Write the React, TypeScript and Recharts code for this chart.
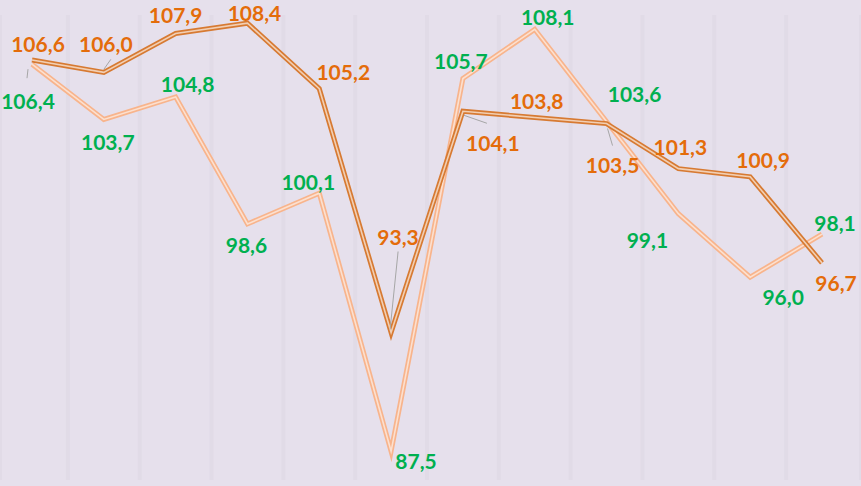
import { LineChart, Line, XAxis, YAxis, CartesianGrid } from "recharts";

const months = ["1", "2", "3", "4", "5", "6", "7", "8", "9", "10", "11", "12"];
const seriesA = [106.6, 106.0, 107.9, 108.4, 105.2, 93.3, 104.1, 103.8, 103.5, 101.3, 100.9, 96.7];
const seriesB = [106.4, 103.7, 104.8, 98.6, 100.1, 87.5, 105.7, 108.1, 103.6, 99.1, 96.0, 98.1];
// grid sits between categories
const gridTicks = [0.5, 1.5, 2.5, 3.5, 4.5, 5.5, 6.5, 7.5, 8.5, 9.5, 10.5];

const data = months.map((m, i) => ({ m, a: seriesA[i], b: seriesB[i] }));

// label offsets from the point (text centre), plus optional leader lines
const offA = [[6, -17], [2, -29], [0, -19], [7, -11], [24, -17], [7, -96], [30, 31], [2, -17], [6, 41], [2, -22], [13, -17], [14, 20]];
const offB = [[-4, 36], [4, 22], [12, -13], [-1, 21], [-11, -12], [25, 9], [-2, -18], [13, -13], [28, -28], [-31, 26], [33, 19], [13, -12]];
const leadA: (number[] | null)[] = [null, [0, -3, 7, -13], null, null, null, [-1, -3, 7, -81], [1, 4, 24, 12], null, [1, 5, 6, 22], null, null, null];
const leadB: (number[] | null)[] = [[-4, 5, -5, 14], null, null, null, null, null, null, null, null, null, null, null];

const fmt = (v: number) => v.toFixed(1).replace(".", ",");

function makeLabel(offs: number[][], leads: (number[] | null)[], color: string) {
  return (props: any) => {
    const { x, y, value, index } = props;
    const [dx, dy] = offs[index];
    const ld = leads[index];
    return (
      <g>
        {ld && (
          <line x1={x + ld[0]} y1={y + ld[1]} x2={x + ld[2]} y2={y + ld[3]} stroke="#a6a6a6" strokeWidth={1} />
        )}
        <text
          x={x + dx}
          y={y + dy}
          textAnchor="middle"
          dominantBaseline="central"
          fill={color}
          fontFamily="Lato, sans-serif"
          fontWeight={700}
          fontSize={21}
        >
          {fmt(value)}
        </text>
      </g>
    );
  };
}

export default function App() {
  return (
    <div style={{ position: "absolute", left: 0, top: 0, width: 861, height: 486, background: "#e6e0ec" }}>
      <style>{".recharts-line-curve { stroke-linejoin: miter; stroke-miterlimit: 10; }"}</style>
      <LineChart width={861} height={486} data={data} margin={{ top: 15, right: 0, bottom: 6, left: 0 }}>
        <CartesianGrid horizontal={false} stroke="#e1dbe7" strokeWidth={4} xAxisId="g" />
        <XAxis dataKey="m" hide padding={{ left: 32, right: 39 }} />
        <XAxis xAxisId="g" type="number" hide domain={[0, 11]} ticks={gridTicks} padding={{ left: 32, right: 39 }} />
        <YAxis hide domain={[86.1, 108.8]} />
        <Line dataKey="b" stroke="#f8b48c" strokeWidth={5} dot={false} isAnimationActive={false} />
        <Line dataKey="b" stroke="#fce0cf" strokeWidth={1.6} dot={false} isAnimationActive={false} />
        <Line dataKey="a" stroke="#d77a32" strokeWidth={5} dot={false} isAnimationActive={false} />
        <Line dataKey="a" stroke="#f2cfb3" strokeWidth={1.6} dot={false} isAnimationActive={false} />
        <Line dataKey="a" stroke="none" dot={false} isAnimationActive={false} label={makeLabel(offA, leadA, "#e46c0a")} />
        <Line dataKey="b" stroke="none" dot={false} isAnimationActive={false} label={makeLabel(offB, leadB, "#00b050")} />
      </LineChart>
    </div>
  );
}
